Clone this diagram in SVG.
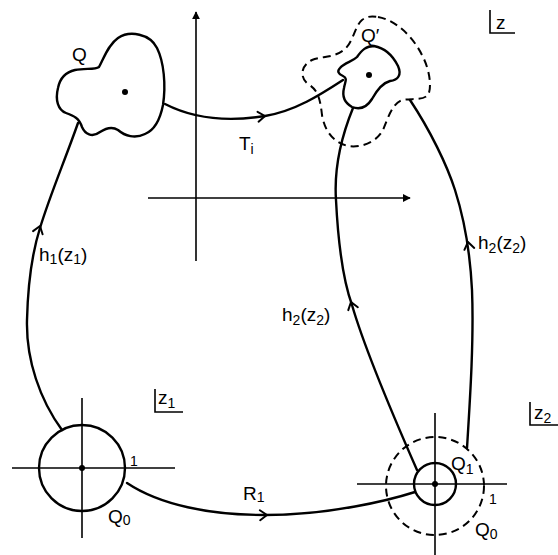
<svg xmlns="http://www.w3.org/2000/svg" width="558" height="555" viewBox="0 0 558 555">
<style>
.c{fill:none;stroke:#000;stroke-width:2.4;stroke-linecap:round;stroke-linejoin:round}
.ax{fill:none;stroke:#000;stroke-width:1.6}
.d{fill:none;stroke:#000;stroke-width:2;stroke-dasharray:8 5}
.ah{fill:none;stroke:#000;stroke-width:2;stroke-linecap:round;stroke-linejoin:round}
text{font-family:"Liberation Sans","DejaVu Sans",sans-serif;font-size:19px;fill:#000}
.s{font-size:14px}
</style>
<defs>
<path id="chev" d="M-7,-5 L0,0 L-7,5" class="ah"/>
<marker id="tri" viewBox="0 0 10 10" refX="9" refY="5" markerWidth="5" markerHeight="5" orient="auto"><path d="M0,0 L10,5 L0,10 z" fill="#000"/></marker>
</defs>
<rect width="558" height="555" fill="#fff"/>
<g id="axes-z">
<line class="ax" x1="196" y1="261" x2="196" y2="12" marker-end="url(#tri)"/>
<line class="ax" x1="148" y1="198" x2="410" y2="198" marker-end="url(#tri)"/>
</g>
<g id="Q">
<path class="c" d="M75,70 C85,68 95,70 99,67 C104,58 108,45 118,38 C130,30 150,34 157,48 C164,62 166,85 163,105 C160,120 155,130 145,134 C135,139 125,136 118,130 C112,126 106,128 100,132 C92,138 85,134 82,127 C79,118 74,116 66,113 C58,110 55,100 58,88 C60,78 66,72 75,70 Z"/>
<circle cx="125" cy="92" r="3"/>
<text x="72" y="61">Q</text>
</g>
<g id="Qprime">
<path class="d" d="M378,17 C395,20 412,35 422,55 C430,70 432,88 428,95 C422,101 412,98 402,100 C392,104 388,118 383,130 C376,143 360,148 348,146 C335,143 325,133 322,115 C320,98 318,90 308,84 C300,78 300,66 312,60 C322,56 335,58 345,49 C353,42 355,26 362,20 C367,16 372,16 378,17 Z"/>
<path class="c" d="M340,68 C345,62 352,62 357,57 C362,50 366,46 374,46 C385,48 393,56 398,66 C402,75 398,80 390,81 C382,83 377,90 372,99 C367,107 360,110 352,107 C345,103 342,96 344,88 C345,82 348,78 343,76 C338,74 337,71 340,68 Z"/>
<circle cx="369" cy="75" r="3"/>
<text x="361" y="42">Q′</text>
</g>
<g id="zlabel">
<path class="ax" d="M490,10 V33 H515"/>
<text x="496" y="29">z</text>
</g>
<g id="Q0left">
<circle class="c" cx="82" cy="468" r="43"/>
<line class="ax" x1="12" y1="468" x2="175" y2="468"/>
<line class="ax" x1="82" y1="398" x2="82" y2="538"/>
<circle cx="82" cy="468" r="3"/>
<text x="130" y="466" class="s">1</text>
<text x="108" y="523">Q<tspan class="s" dy="2">0</tspan></text>
<path class="ax" d="M155,389 V412 H183"/>
<text x="158" y="404">z<tspan class="s" dy="4">1</tspan></text>
</g>
<g id="Q0right">
<circle class="d" cx="435" cy="486" r="49"/>
<circle class="c" cx="435" cy="484" r="21"/>
<line class="ax" x1="357" y1="484" x2="507" y2="484"/>
<line class="ax" x1="435" y1="413" x2="435" y2="555"/>
<circle cx="435" cy="484" r="3"/>
<text x="489" y="504" class="s">1</text>
<text x="451" y="470">Q<tspan class="s" dy="4">1</tspan></text>
<text x="475" y="536">Q<tspan class="s" dy="3">0</tspan></text>
<path class="ax" d="M530,402 V425 H558"/>
<text x="534" y="419">z<tspan class="s" dy="4">2</tspan></text>
</g>
<g id="connectors">
<path class="c" d="M165,104 C200,122 240,120 265,116 C295,111 320,95 343,80"/>
<use href="#chev" transform="translate(265,116) rotate(-6)"/>
<path class="c" d="M62,430 C40,400 26,360 27,320 C28,280 33,250 40,228 C50,195 65,160 78,123"/>
<use href="#chev" transform="translate(40,226) rotate(-72)"/>
<path class="c" d="M353,108 C340,140 334,170 336,200 C338,240 343,280 352,305 C365,350 395,420 417,470"/>
<use href="#chev" transform="translate(351,302) rotate(-107)"/>
<path class="c" d="M410,100 C430,130 447,165 455,190 C463,215 470,250 472,290 C474,340 470,400 467,448"/>
<use href="#chev" transform="translate(468,242) rotate(-101)"/>
<path class="c" d="M127,483 C160,505 210,515 265,515 C330,515 390,500 415,492"/>
<use href="#chev" transform="translate(267,515) rotate(-2)"/>
<text x="239" y="150">T<tspan class="s" dy="4">i</tspan></text>
<text x="39" y="261">h<tspan class="s" dy="3">1</tspan><tspan dy="-3">(z</tspan><tspan class="s" dy="3">1</tspan><tspan dy="-3">)</tspan></text>
<text x="282" y="321">h<tspan class="s" dy="4">2</tspan><tspan dy="-4">(z</tspan><tspan class="s" dy="4">2</tspan><tspan dy="-4">)</tspan></text>
<text x="478" y="249">h<tspan class="s" dy="4">2</tspan><tspan dy="-4">(z</tspan><tspan class="s" dy="4">2</tspan><tspan dy="-4">)</tspan></text>
<text x="243" y="500">R<tspan class="s" dy="2">1</tspan></text>
</g>
</svg>
